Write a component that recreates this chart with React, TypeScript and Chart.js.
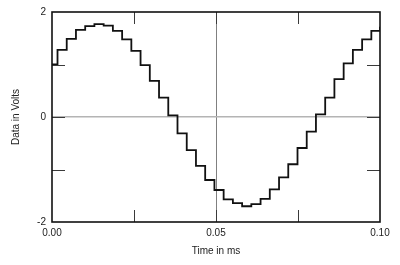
import React, { useEffect, useRef } from "react";
import { Chart, registerables } from "chart.js";

Chart.register(...registerables);

// Sample instants (ms) where the held value changes
const timeMs = [
  0, 0.00168, 0.00449, 0.0073, 0.01012, 0.01293, 0.01575, 0.01856, 0.02138,
  0.02419, 0.027, 0.02982, 0.03263, 0.03545, 0.03826, 0.04108, 0.04389,
  0.0467, 0.04952, 0.05233, 0.05515, 0.05796, 0.06077, 0.06359, 0.0664,
  0.06922, 0.07203, 0.07485, 0.07766, 0.08047, 0.08329, 0.0861, 0.08892,
  0.09173, 0.09455, 0.09736, 0.1,
];
// Held sample values (V)
const volts = [
  1.0, 1.28, 1.49, 1.66, 1.73, 1.77, 1.74, 1.64, 1.48, 1.26, 0.99, 0.69, 0.37,
  0.03, -0.31, -0.63, -0.93, -1.2, -1.39, -1.57, -1.64, -1.7, -1.66, -1.56,
  -1.38, -1.15, -0.9, -0.59, -0.28, 0.05, 0.37, 0.72, 1.02, 1.28, 1.48, 1.64,
  1.72,
];
const xTickLabels = ["0.00", "0.05", "0.10"];
const yTickLabels = ["-2", "0", "2"];
const xMarks = [0.025, 0.05, 0.075];
const yMarks = [-1, 0, 1];

const FONT = "'Liberation Sans', Arial, Helvetica, sans-serif";

const framePlugin = {
  id: "frameTicks",
  afterDraw(chart: any) {
    const { ctx, chartArea: a, scales } = chart;
    const xs = scales.x;
    const ys = scales.y;
    ctx.save();
    ctx.strokeStyle = "#3a3a3a";
    ctx.lineWidth = 1;
    const tl = 12;
    xMarks.forEach((v) => {
      const px = Math.round(xs.getPixelForValue(v)) + 0.5;
      ctx.beginPath();
      ctx.moveTo(px, a.bottom);
      ctx.lineTo(px, a.bottom - tl);
      ctx.moveTo(px, a.top);
      ctx.lineTo(px, a.top + tl);
      ctx.stroke();
    });
    yMarks.forEach((v) => {
      const py = Math.round(ys.getPixelForValue(v)) + 0.5;
      ctx.beginPath();
      ctx.moveTo(a.left, py);
      ctx.lineTo(a.left + 13, py);
      ctx.moveTo(a.right, py);
      ctx.lineTo(a.right - 13, py);
      ctx.stroke();
    });
    ctx.strokeStyle = "#111";
    ctx.lineWidth = 1.6;
    ctx.strokeRect(a.left, a.top, a.right - a.left, a.bottom - a.top);
    ctx.restore();
  },
};

export default function App() {
  const ref = useRef<HTMLCanvasElement | null>(null);
  useEffect(() => {
    document.body.style.margin = "0";
    const canvas = ref.current;
    if (!canvas) return;
    const data = timeMs.map((t, i) => ({ x: t, y: volts[i] }));
    const chart = new Chart(canvas, {
      type: "line",
      data: {
        datasets: [
          {
            data,
            stepped: true,
            borderColor: "#111",
            borderWidth: 1.8,
            pointRadius: 0,
            fill: false,
          },
        ],
      },
      plugins: [framePlugin],
      options: {
        animation: false,
        responsive: false,
        layout: { padding: { left: 0, right: 20, top: 12, bottom: 0 } },
        plugins: { legend: { display: false }, tooltip: { enabled: false } },
        scales: {
          x: {
            type: "linear",
            min: 0,
            max: 0.1,
            afterFit: (s: any) => {
              s.height = 43;
            },
            border: { display: false },
            grid: {
              drawTicks: false,
              lineWidth: 1,
              color: (c: any) =>
                Math.abs(c.tick.value - 0.05) < 1e-9 ? "#808080" : "rgba(0,0,0,0)",
            },
            ticks: {
              stepSize: 0.025,
              autoSkip: false,
              maxRotation: 0,
              padding: 5,
              color: "#222",
              font: { family: FONT, size: 10 },
              callback: (v: any) => {
                const n = Number(v);
                const idx = Math.round(n / 0.05);
                return Math.abs(n / 0.05 - idx) < 1e-6 ? xTickLabels[idx] : "";
              },
            },
            title: {
              display: true,
              text: "Time in ms",
              color: "#222",
              font: { family: FONT, size: 10 },
              padding: { top: 0, bottom: 8 },
            },
          },
          y: {
            type: "linear",
            min: -2,
            max: 2,
            afterFit: (s: any) => {
              s.width = 52;
            },
            border: { display: false },
            grid: {
              drawTicks: false,
              lineWidth: 1.5,
              color: (c: any) =>
                Math.abs(c.tick.value) < 1e-9 ? "#b4b4b4" : "rgba(0,0,0,0)",
            },
            ticks: {
              stepSize: 1,
              autoSkip: false,
              padding: 6,
              color: "#222",
              font: { family: FONT, size: 10 },
              callback: (v: any) => {
                const n = Math.round(Number(v));
                return n % 2 === 0 ? yTickLabels[(n + 2) / 2] : "";
              },
            },
            title: {
              display: true,
              text: "Data in Volts",
              color: "#222",
              font: { family: FONT, size: 10 },
              padding: { top: 10, bottom: 0 },
            },
          },
        },
      },
    });
    return () => chart.destroy();
  }, []);
  return (
    <div style={{ position: "fixed", left: 0, top: 0, width: 400, height: 265, background: "#fff" }}>
      <canvas ref={ref} width={400} height={265} style={{ width: 400, height: 265, display: "block" }} />
    </div>
  );
}
